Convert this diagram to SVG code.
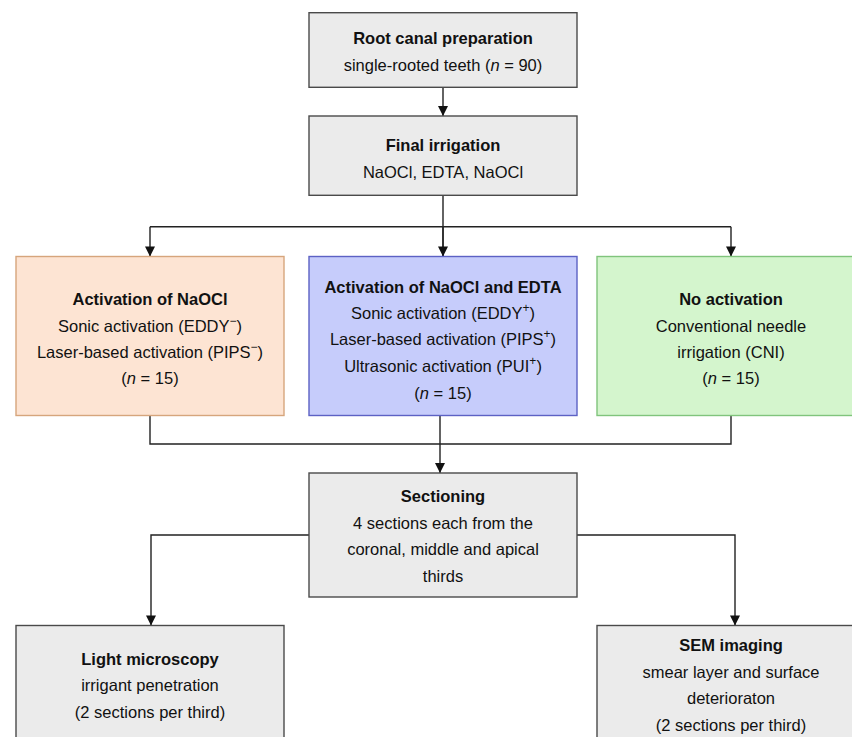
<svg xmlns="http://www.w3.org/2000/svg" width="852" height="737" viewBox="0 0 852 737">
<style>
text{font-family:"Liberation Sans",Arial,sans-serif;font-size:16.5px;fill:#111;text-anchor:middle}
.b{font-weight:bold}
.sup{font-size:12px}
.gray{fill:#ebebeb;stroke:#4a4a4a;stroke-width:1.4}
.org{fill:#fde4d3;stroke:#d6a57c;stroke-width:1.4}
.blu{fill:#c6ccfb;stroke:#5c61c4;stroke-width:1.4}
.grn{fill:#d4f5cd;stroke:#80c47c;stroke-width:1.4}
.ln{fill:none;stroke:#222;stroke-width:1.4}
</style>
<defs>
<marker id="ah" viewBox="0 0 10 10" refX="10" refY="5" markerWidth="11" markerHeight="10" markerUnits="userSpaceOnUse" orient="auto">
<path d="M0,0 L10,5 L0,10 z" fill="#111"/>
</marker>
</defs>
<g id="connectors">
<path class="ln" d="M443,87.5 V116" marker-end="url(#ah)"/>
<path class="ln" d="M443,195.5 V256.5"/>
<path class="ln" d="M150,226.7 H731"/>
<path class="ln" d="M150,226.7 V256.5" marker-end="url(#ah)"/>
<path class="ln" d="M443,226.7 V256.5" marker-end="url(#ah)"/>
<path class="ln" d="M731,226.7 V256.5" marker-end="url(#ah)"/>
<path class="ln" d="M150,415.5 V444 H731 V415.5"/>
<path class="ln" d="M440,415.5 V473" marker-end="url(#ah)"/>
<path class="ln" d="M309,535 H151 V625.5" marker-end="url(#ah)"/>
<path class="ln" d="M577,535 H735 V625.5" marker-end="url(#ah)"/>
</g>
<g id="root">
<rect class="gray" x="309" y="12.7" width="268" height="74.6"/>
<text class="b" x="443" y="44">Root canal preparation</text>
<text x="443" y="71">single-rooted teeth (<tspan font-style="italic">n</tspan> = 90)</text>
</g>
<g id="final">
<rect class="gray" x="309" y="116" width="268" height="79.3"/>
<text class="b" x="443" y="151">Final irrigation</text>
<text x="443" y="177.7">NaOCl, EDTA, NaOCl</text>
</g>
<g id="naocl">
<rect class="org" x="16" y="256.5" width="268" height="159"/>
<text class="b" x="150" y="305">Activation of NaOCl</text>
<text x="150" y="332">Sonic activation (EDDY<tspan class="sup" dy="-7">−</tspan><tspan dy="7">)</tspan></text>
<text x="150" y="358">Laser-based activation (PIPS<tspan class="sup" dy="-7">−</tspan><tspan dy="7">)</tspan></text>
<text x="150" y="384">(<tspan font-style="italic">n</tspan> = 15)</text>
</g>
<g id="naocl-edta">
<rect class="blu" x="309" y="256.5" width="268" height="159"/>
<text class="b" x="443" y="292.5">Activation of NaOCl and EDTA</text>
<text x="443" y="319">Sonic activation (EDDY<tspan class="sup" dy="-7">+</tspan><tspan dy="7">)</tspan></text>
<text x="443" y="345">Laser-based activation (PIPS<tspan class="sup" dy="-7">+</tspan><tspan dy="7">)</tspan></text>
<text x="443" y="372">Ultrasonic activation (PUI<tspan class="sup" dy="-7">+</tspan><tspan dy="7">)</tspan></text>
<text x="443" y="399">(<tspan font-style="italic">n</tspan> = 15)</text>
</g>
<g id="no-activation">
<rect class="grn" x="597" y="256.5" width="268" height="159"/>
<text class="b" x="731" y="305">No activation</text>
<text x="731" y="332">Conventional needle</text>
<text x="731" y="358">irrigation (CNI)</text>
<text x="731" y="384">(<tspan font-style="italic">n</tspan> = 15)</text>
</g>
<g id="sectioning">
<rect class="gray" x="309" y="473" width="268" height="124"/>
<text class="b" x="443" y="502">Sectioning</text>
<text x="443" y="528.5">4 sections each from the</text>
<text x="443" y="555">coronal, middle and apical</text>
<text x="443" y="581.5">thirds</text>
</g>
<g id="light">
<rect class="gray" x="16" y="625.5" width="268" height="140"/>
<text class="b" x="150" y="664.5">Light microscopy</text>
<text x="150" y="691">irrigant penetration</text>
<text x="150" y="718">(2 sections per third)</text>
</g>
<g id="sem">
<rect class="gray" x="597" y="625.5" width="276" height="140"/>
<text class="b" x="731" y="651">SEM imaging</text>
<text x="731" y="677.5">smear layer and surface</text>
<text x="731" y="704">deterioraton</text>
<text x="731" y="731">(2 sections per third)</text>
</g>
</svg>
